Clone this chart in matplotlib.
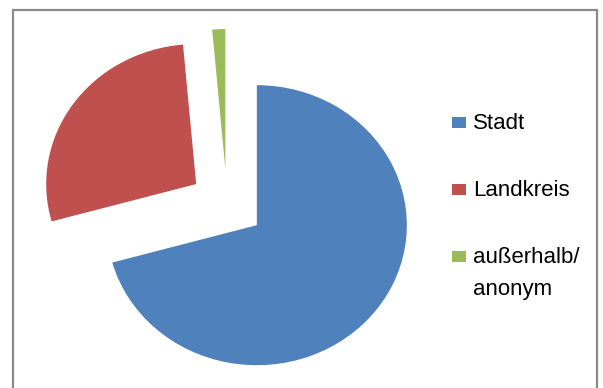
import matplotlib
matplotlib.use("Agg")
import matplotlib.pyplot as plt
from matplotlib.patches import Rectangle

categories = ["Stadt", "Landkreis", "außerhalb/\nanonym"]
values = [70.7, 27.9, 1.4]
colors = ["#4F81BD", "#C0504D", "#9BBB59"]
explode = [0.25, 0.25, 0.25]

W, H = 603, 388
fig = plt.figure(figsize=(W / 100, H / 100), dpi=100)
plt.rcParams['font.family'] = ['Liberation Sans', 'DejaVu Sans']

def fx(x):
    return x / W

def fy(y):
    return 1 - y / H

ax = fig.add_axes([0, 0, 1, 1])
ax.pie(values, colors=colors, explode=explode, startangle=90, counterclock=False,
       radius=1, center=(0, 0), wedgeprops=dict(linewidth=0, antialiased=True))
ax.set_aspect('auto')
cx, cy = 227, 204
sx, sy = 150, 140
ax.set_xlim(-cx / sx, (W - cx) / sx)
ax.set_ylim(-(H - cy) / sy, cy / sy)
ax.axis('off')

# frame
fig.patches.append(Rectangle((fx(12.5), fy(420)), fx(597) - fx(12.5), fy(10) - fy(420),
                             transform=fig.transFigure, fill=False,
                             edgecolor="#8a8a8a", linewidth=1.6, clip_on=False))

# legend
baselines = [129, 196, 263]
for lab, col, base in zip(categories, colors, baselines):
    fig.patches.append(Rectangle((fx(452), fy(base - 1)), fx(466) - fx(452), fy(base - 12) - fy(base - 1),
                                 transform=fig.transFigure, facecolor=col, edgecolor='none'))
    lines = lab.split("\n")
    for i, ln in enumerate(lines):
        fig.text(fx(473), fy(base + 32 * i), ln, fontsize=16, color="#000000",
                 ha='left', va='baseline')

fig.savefig("out.png", dpi=100)
